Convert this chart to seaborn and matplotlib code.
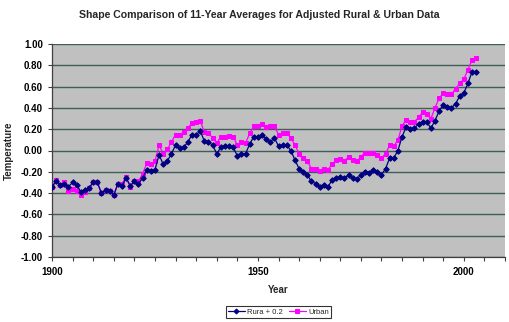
import matplotlib
matplotlib.use("Agg")
import matplotlib.pyplot as plt
import seaborn as sns
import numpy as np
import pandas as pd
from matplotlib.ticker import MultipleLocator

years = list(range(1900, 2004))

rural_plus_02 = [
    -0.34, -0.29, -0.32, -0.31, -0.34, -0.30, -0.32, -0.39, -0.37, -0.35,
    -0.30, -0.30, -0.40, -0.37, -0.38, -0.42, -0.31, -0.33, -0.26, -0.33,
    -0.29, -0.31, -0.26, -0.18, -0.19, -0.18, -0.04, -0.13, -0.10, -0.03,
    0.05, 0.02, 0.03, 0.08, 0.15, 0.15, 0.18, 0.09, 0.08, 0.05,
    -0.03, 0.03, 0.04, 0.04, 0.03, -0.05, -0.03, -0.03, 0.06, 0.13,
    0.13, 0.15, 0.11, 0.08, 0.12, 0.04, 0.05, 0.05, 0.00, -0.09,
    -0.17, -0.20, -0.23, -0.29, -0.31, -0.34, -0.32, -0.34, -0.28, -0.26,
    -0.25, -0.26, -0.23, -0.26, -0.27, -0.23, -0.20, -0.21, -0.18, -0.20,
    -0.23, -0.17, -0.07, -0.07, 0.00, 0.13, 0.22, 0.20, 0.21, 0.25,
    0.27, 0.27, 0.21, 0.28, 0.37, 0.43, 0.41, 0.40, 0.44, 0.51,
    0.54, 0.63, 0.74, 0.74,
]

urban = [
    -0.34, -0.28, -0.32, -0.30, -0.38, -0.36, -0.38, -0.42, -0.39, -0.35,
    -0.30, -0.30, -0.40, -0.37, -0.38, -0.42, -0.31, -0.31, -0.25, -0.34,
    -0.29, -0.29, -0.22, -0.12, -0.13, -0.10, 0.05, -0.03, 0.01, 0.08,
    0.15, 0.15, 0.17, 0.21, 0.26, 0.27, 0.28, 0.17, 0.16, 0.12,
    0.07, 0.13, 0.13, 0.14, 0.13, 0.05, 0.08, 0.07, 0.16, 0.23,
    0.23, 0.25, 0.22, 0.23, 0.23, 0.15, 0.16, 0.16, 0.12, 0.05,
    -0.03, -0.07, -0.10, -0.17, -0.17, -0.19, -0.17, -0.18, -0.13, -0.09,
    -0.08, -0.10, -0.06, -0.09, -0.10, -0.06, -0.02, -0.02, -0.02, -0.04,
    -0.07, -0.03, 0.05, 0.04, 0.10, 0.23, 0.29, 0.27, 0.27, 0.31,
    0.36, 0.34, 0.30, 0.40, 0.49, 0.54, 0.53, 0.53, 0.58, 0.63,
    0.67, 0.76, 0.85, 0.87,
]

title = "Shape Comparison of 11-Year Averages for Adjusted Rural & Urban Data"
series_names = ["Rura + 0.2", "Urban"]
x_tick_labels = ["1900", "1950", "2000"]
y_ticks = [-1.0, -0.8, -0.6, -0.4, -0.2, 0.0, 0.2, 0.4, 0.6, 0.8, 1.0]

sns.set_style("white")
plt.rcParams['font.family'] = ['Liberation Sans', 'DejaVu Sans']

fig = plt.figure(figsize=(5.10, 3.22), dpi=100)
ax = fig.add_axes([52/510, 1-257/322, (505-52)/510, (257-44)/322])
ax.set_facecolor('#C0C0C0')

df_r = pd.DataFrame({"Year": years, "Temperature": rural_plus_02})
df_u = pd.DataFrame({"Year": years, "Temperature": urban})

sns.lineplot(data=df_r, x="Year", y="Temperature", ax=ax, color='#000080',
             marker='D', markersize=2.8, markeredgecolor='#000080', linewidth=0.9,
             label=series_names[0], zorder=3)
sns.lineplot(data=df_u, x="Year", y="Temperature", ax=ax, color='#FF00FF',
             marker='s', markersize=3.2, markeredgecolor='#FF00FF', linewidth=0.9,
             label=series_names[1], zorder=2)

ax.set_xlim(1900, 2010)
ax.set_ylim(-1.0, 1.0)
ax.set_yticks(y_ticks)
ax.set_yticklabels([f"{v:.2f}" for v in y_ticks], fontweight='bold', fontsize=7)
ax.set_xticks([1900, 1950, 2000])
ax.set_xticklabels(x_tick_labels, fontweight='bold', fontsize=7)
ax.xaxis.set_minor_locator(MultipleLocator(5))
ax.tick_params(axis='both', which='both', direction='out', length=3, width=0.8,
               colors='#404040', labelcolor='black', bottom=True, left=True)
ax.tick_params(axis='x', which='major', pad=4)

ax.yaxis.grid(True, color='#3E5E56', linewidth=1.0)
ax.xaxis.grid(False)
ax.set_axisbelow(True)
for s in ['top', 'right']:
    ax.spines[s].set_visible(False)
for s in ['left', 'bottom']:
    ax.spines[s].set_color('#404040')
    ax.spines[s].set_linewidth(0.9)

ax.set_xlabel("Year", fontweight='bold', fontsize=7, labelpad=6)
ax.set_ylabel("Temperature", fontweight='bold', fontsize=7, labelpad=5)
fig.suptitle(title, fontweight='bold', fontsize=7.6, y=1-15/322, va='center',
             x=259/510)

leg = ax.legend(loc='center', bbox_to_anchor=(0.5, (257-312)/(257-44)), ncol=2,
                fontsize=5.5, frameon=True, fancybox=False, edgecolor='black',
                handlelength=2.2, columnspacing=0.8, handletextpad=0.3,
                borderpad=0.3, markerscale=0.9)
leg.get_frame().set_linewidth(0.8)

fig.savefig("out.png", dpi=100, facecolor='white')
